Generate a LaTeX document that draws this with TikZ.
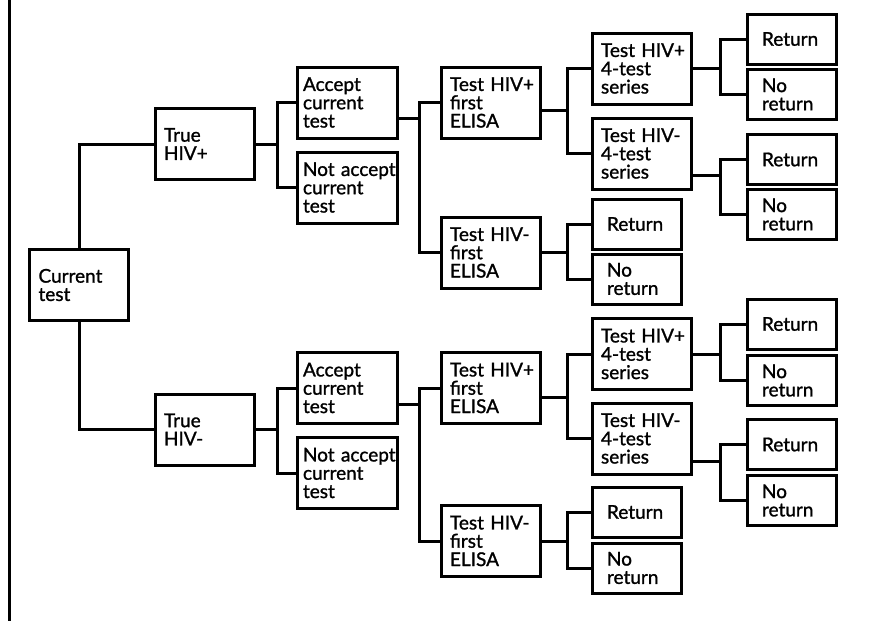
\documentclass[tikz,border=0pt]{standalone}
\usepackage{fontspec}
\newfontfamily\boxfont{Lato}[FakeBold=1.2]
\usepackage{tikz}
\usetikzlibrary{positioning}
\hyphenpenalty=10000

\begin{document}
\begin{tikzpicture}[x=1pt,y=-1pt,
    line width=3pt,
    cell/.style={draw, line width=3pt, inner xsep=9pt, inner ysep=0pt,
      text width=81pt, minimum height=71pt, align=left,
      font=\boxfont\fontsize{19}{18.3}\selectfont},
    wide/.style={cell, inner xsep=6pt, text width=88pt},
    leaf/.style={cell, inner xsep=15pt, text width=59pt, minimum height=50pt}]
  \useasboundingbox (0,0) rectangle (870,621);
  \draw (9,0) -- (9,621);

  % root and true status
  \node[cell] (cur) at (79,285)    {Current\\test};
  \node[cell] (tp)  at (204.5,144) {True\\HIV+};
  \node[cell] (tn)  at (204.5,429.5) {True\\HIV-};

  % accept or not
  \node[wide] (acc1) at (347,102.5) {Accept\\current\\test};
  \node[wide] (nac1) at (347,187.5) {Not~accept\\current\\test};
  \node[wide] (acc2) at (347,388)   {Accept\\current\\test};
  \node[wide] (nac2) at (347,473)   {Not~accept\\current\\test};

  % first ELISA
  \node[cell] (ep1) at (490.5,102.5) {Test~HIV+\\first\\ELISA};
  \node[cell] (en1) at (490.5,252.5) {Test~HIV-\\first\\ELISA};
  \node[cell] (ep2) at (490.5,388)   {Test~HIV+\\first\\ELISA};
  \node[cell] (en2) at (490.5,541)   {Test~HIV-\\first\\ELISA};

  % 4-test series
  \node[cell] (sp1) at (641.5,68.5)  {Test~HIV+\\4-test\\series};
  \node[cell] (sn1) at (641.5,153.5) {Test~HIV-\\4-test\\series};
  \node[cell] (sp2) at (641.5,354)   {Test~HIV+\\4-test\\series};
  \node[cell] (sn2) at (641.5,438.5) {Test~HIV-\\4-test\\series};

  % return / no return
  \node[leaf] (ret1) at (636.5,224) {Return};
  \node[leaf] (nor1) at (636.5,279) {No\\return};
  \node[leaf] (ret2) at (636.5,512) {Return};
  \node[leaf] (nor2) at (636.5,568) {No\\return};
  \node[leaf] (ret3) at (791.5,39)    {Return};
  \node[leaf] (nor3) at (791.5,94.5)  {No\\return};
  \node[leaf] (ret4) at (791.5,159.5) {Return};
  \node[leaf] (nor4) at (791.5,214.5) {No\\return};
  \node[leaf] (ret5) at (791.5,324)   {Return};
  \node[leaf] (nor5) at (791.5,380.5) {No\\return};
  \node[leaf] (ret6) at (791.5,444.5) {Return};
  \node[leaf] (nor6) at (791.5,500.5) {No\\return};

  % connectors
  \draw (cur.north) |- (tp.west);
  \draw (cur.south) |- (tn.west);
  \foreach \p/\a/\b in {tp/acc1/nac1, tn/acc2/nac2} {
    \draw (\p.east) -- ++(22,0) |- (\a.west);
    \draw (\p.east) -- ++(22,0) |- (\b.west);
  }
  \foreach \p/\a/\b in {acc1/ep1/en1, acc2/ep2/en2} {
    \draw ([yshift=-16pt]\p.east) -- ++(21,0) |- (\a.west);
    \draw ([yshift=-16pt]\p.east) -- ++(21,0) |- (\b.west);
  }
  \foreach \p/\s/\a/\b in {ep1/-8/sp1/sn1, ep2/-9/sp2/sn2, en1/0/ret1/nor1, en2/0/ret2/nor2} {
    \draw ([yshift=\s pt]\p.east) -- ++(25.5,0) |- (\a.west);
    \draw ([yshift=\s pt]\p.east) -- ++(25.5,0) |- (\b.west);
  }
  \foreach \p/\s/\a/\b in {sp1/0/ret3/nor3, sn1/-21.5/ret4/nor4, sp2/0/ret5/nor5, sn2/-22.5/ret6/nor6} {
    \draw ([yshift=\s pt]\p.east) -- ++(28,0) |- (\a.west);
    \draw ([yshift=\s pt]\p.east) -- ++(28,0) |- (\b.west);
  }
\end{tikzpicture}
\end{document}
